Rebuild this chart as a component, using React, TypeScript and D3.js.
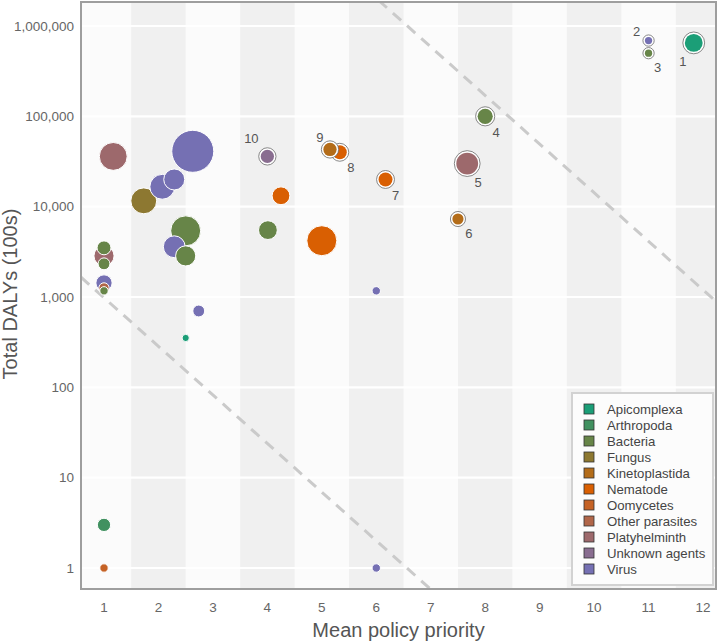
import React from "react";
import * as d3 from "d3";

const categories = [
  "Apicomplexa", "Arthropoda", "Bacteria", "Fungus", "Kinetoplastida", "Nematode",
  "Oomycetes", "Other parasites", "Platyhelminth", "Unknown agents", "Virus",
];

const pointGroup = [
  "Apicomplexa", "Virus", "Bacteria", "Bacteria", "Platyhelminth", "Kinetoplastida",
  "Nematode", "Nematode", "Kinetoplastida", "Unknown agents",
  "Platyhelminth", "Virus", "Virus", "Virus", "Fungus", "Nematode", "Bacteria",
  "Nematode", "Bacteria", "Virus", "Bacteria", "Bacteria", "Platyhelminth", "Bacteria",
  "Virus", "Other parasites", "Bacteria", "Virus", "Virus", "Apicomplexa", "Arthropoda",
  "Oomycetes", "Virus",
];
const pointPriority = [
  11.83, 11, 11, 8, 7.67, 7.5, 6.17, 5.33, 5.15, 4,
  1.17, 2.63, 2.29, 2.07, 1.73, 4.25, 4.01, 5.0, 2.5, 2.29, 2.5, 1, 1, 1,
  1, 1, 1, 2.74, 6, 2.5, 1, 1, 6,
];
const pointDalys = [
  650000, 690000, 500000, 100000, 30000, 7300, 20000, 40000, 43000, 36000,
  36000, 41000, 20000, 16600, 11600, 13200, 5500, 4200, 5400, 3600, 2850, 3500, 2850, 2330,
  1430, 1260, 1170, 700, 1170, 352, 3, 1, 1,
];
const pointSize = [
  18, 3, 3, 13, 27, 7, 11, 11, 10, 10,
  44, 100, 25, 35, 38, 18, 20, 51, 51, 27, 23, 11, 23, 8,
  15, 6, 4, 8, 4, 3, 10, 4, 4,
];
const pointRank = [
  1, 2, 3, 4, 5, 6, 7, 8, 9, 10,
  0, 0, 0, 0, 0, 0, 0, 0, 0, 0, 0, 0, 0, 0, 0, 0, 0, 0, 0, 0, 0, 0, 0,
];

const xTicks = [1, 2, 3, 4, 5, 6, 7, 8, 9, 10, 11, 12];
const yTicks = [1, 10, 100, 1000, 10000, 100000, 1000000];
const stripeStarts = [1.5, 3.5, 5.5, 7.5, 9.5, 11.5];
// log10(DALYs) = intercept + slope * priority
const refIntercepts = [9.535, 3.53];
const refSlope = -0.538;

// label offsets in px (dx, dy) for ranked points 1..10
const labelOffsets: [number, number][] = [
  [-11, 19], [-12, -9], [9, 14], [11, 16], [11, 19], [11, 14], [10, 16], [11, 15], [-10, -12], [-16, -18],
];

const W = 719, H = 641;
const P = { left: 81, right: 716, top: 2, bottom: 589 };
const font = "'Liberation Sans', Arial, Helvetica, sans-serif";

export default function App() {
  const x = d3.scaleLinear().domain([1, 12]).range([104, 703]);
  const y = d3.scaleLog().domain([1, 1e6]).range([568, 26]);
  const xMin = x.invert(P.left), xMax = x.invert(P.right);

  const palette = d3.piecewise(d3.interpolateRgb, ["#1B9E77", "#D95F02", "#7570B3"]);
  const color = d3.scaleOrdinal<string, string>()
    .domain(categories)
    .range(categories.map((_, i) => d3.color(palette(i / (categories.length - 1)))!.formatHex()));
  const r = d3.scaleSqrt().domain([0, 100]).range([0, 21]);

  const pts = pointGroup.map((g, i) => ({
    g, px: pointPriority[i], dy: pointDalys[i], s: pointSize[i], rank: pointRank[i], i,
  }));
  const sorted = [...pts].sort((a, b) => b.s - a.s || a.i - b.i);

  const refLines = refIntercepts.map((a) =>
    d3.line<number>()
      .x((v) => x(v))
      .y((v) => y(Math.pow(10, a + refSlope * v)))([xMin, xMax])
  );

  const fmt = d3.format(",");

  return (
    <svg width={W} height={H} style={{ position: "absolute", left: 0, top: 0, background: "#fff" }}
      fontFamily={font}>
      <defs>
        <clipPath id="panel">
          <rect x={P.left} y={P.top} width={P.right - P.left} height={P.bottom - P.top} />
        </clipPath>
      </defs>
      <rect x={P.left} y={P.top} width={P.right - P.left} height={P.bottom - P.top} fill="#fbfbfb" />
      <g clipPath="url(#panel)">
        {stripeStarts.map((s) => (
          <rect key={s} x={x(s)} y={P.top} width={x(s + 1) - x(s)} height={P.bottom - P.top} fill="#f0f0f0" />
        ))}
        {yTicks.map((t) => (
          <line key={t} x1={P.left} x2={P.right} y1={y(t)} y2={y(t)} stroke="#ffffff" strokeWidth={2.2} />
        ))}
        {refLines.map((d, i) => (
          <path key={i} d={d!} fill="none" stroke="#cacaca" strokeWidth={3} strokeDasharray="11,8" />
        ))}
        {sorted.map((p) => {
          const cx = x(p.px), cy = y(p.dy), rr = r(p.s);
          return p.rank > 0 ? (
            <g key={p.i}>
              <circle cx={cx} cy={cy} r={rr + 2} fill="#ffffff" stroke="#6a6a6a" strokeWidth={0.8} />
              <circle cx={cx} cy={cy} r={rr} fill={color(p.g)} />
            </g>
          ) : (
            <circle key={p.i} cx={cx} cy={cy} r={rr} fill={color(p.g)} stroke="#ffffff" strokeWidth={1} />
          );
        })}
        {pts.filter((p) => p.rank > 0).map((p) => {
          const [dx, ddy] = labelOffsets[p.rank - 1];
          return (
            <text key={"l" + p.i} x={x(p.px) + dx} y={y(p.dy) + ddy} fontSize={13} fill="#555"
              textAnchor="middle" dominantBaseline="central">{p.rank}</text>
          );
        })}
      </g>
      <rect x={P.left} y={P.top} width={P.right - P.left} height={P.bottom - P.top} fill="none"
        stroke="#9e9e9e" strokeWidth={2} />
      {yTicks.map((t) => (
        <text key={t} x={74} y={y(t)} fontSize={13.5} fill="#666" textAnchor="end" dominantBaseline="central">
          {fmt(t)}
        </text>
      ))}
      {xTicks.map((t) => (
        <text key={t} x={x(t)} y={607} fontSize={13.5} fill="#666" textAnchor="middle" dominantBaseline="central">
          {t}
        </text>
      ))}
      <text x={(P.left + P.right) / 2} y={637} fontSize={20} fill="#555" textAnchor="middle">
        Mean policy priority
      </text>
      <text transform={`translate(17,294) rotate(-90)`} fontSize={20} fill="#555"
        textAnchor="middle">
        Total DALYs (100s)
      </text>
      <g>
        <rect x={572} y={393} width={141} height={192} fill="#fcfcfc" stroke="#d2d2d2" strokeWidth={2} />
        {categories.map((c, i) => (
          <g key={c} transform={`translate(584,${409 + i * 16})`}>
            <rect x={0} y={-5} width={10} height={10} fill={color(c)} stroke="#333" strokeWidth={0.8} />
            <text x={23} y={0} fontSize={13.2} fill="#444" dominantBaseline="central">{c}</text>
          </g>
        ))}
      </g>
    </svg>
  );
}
